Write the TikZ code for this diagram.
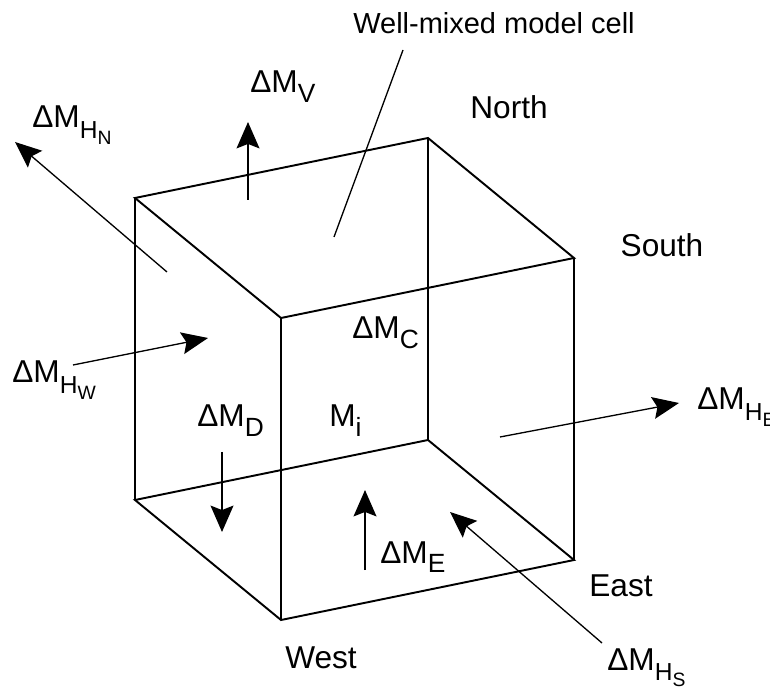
\documentclass[tikz,border=0pt]{standalone}
\usepackage{fontspec}
\setmainfont{Liberation Sans}
\usepackage{tikz}
\usetikzlibrary{arrows.meta,calc,positioning}
\newcommand{\dM}[1]{ΔM\raisebox{-.3em}{\fontsize{15}{15}\selectfont #1}}
\newcommand{\dMH}[1]{ΔM\raisebox{-.34em}{\fontsize{14}{14}\selectfont H\raisebox{-.22em}{\fontsize{11}{11}\selectfont #1}}}
\tikzset{
  arista/.style={
    line width=1.1pt,
    line join=miter
  },
  flecha/.style={
    -{Stealth[length=15pt,width=13pt,inset=2.5pt]},
    line width=1.1pt
  },
  flechafina/.style={
    -{Stealth[length=15pt,width=12.5pt,inset=2.5pt]},
    line width=.75pt
  },
  rotulo/.style={
    inner sep=0pt,
    font=\fontsize{18}{20}\selectfont
  },
  flujo/.style={
    rotulo,
    anchor=base west
  }
}

\begin{document}
\begin{tikzpicture}[x=0.02cm,y=-0.02cm]
\useasboundingbox (0,0) rectangle (770,688);
% esquinas del cubo
\coordinate (a) at (135,198);
\coordinate (b) at (428,138);
\coordinate (c) at (574,258);
\coordinate (d) at (281,318);
\coordinate (a2) at (135,500);
\coordinate (b2) at (428,440);
\coordinate (c2) at (574,560);
\coordinate (d2) at (281,620);
\draw[arista] (a) -- (b) -- (c) -- (d) -- cycle;
\draw[arista] (a2) -- (b2) -- (c2) -- (d2) -- cycle;
\draw[arista] (a) -- (a2);
\draw[arista] (b) -- (b2);
\draw[arista] (c) -- (c2);
\draw[arista] (d) -- (d2);
% rotulos
\node[rotulo] (norte) at (509,107) {North};
\node[rotulo] (sur) at (662,245) {South};
\node[rotulo] (este) at (621,586) {East};
\node[rotulo] (oeste) at (321,658) {West};
\node[rotulo, font=\fontsize{16.5}{18}\selectfont] (celda) at (494,23) {Well-mixed model cell};
\node[flujo] (mv) at (250,93) {\dM{V}};
\node[flujo] (mhn) at (32,128) {\dMH{N}};
\node[flujo] (mhw) at (12,383) {\dMH{W}};
\node[flujo] (md) at (197,427) {\dM{D}};
\node[flujo] (mc) at (352,339) {\dM{C}};
\node[flujo] (mi) at (329,427) {M\raisebox{-.3em}{\fontsize{15}{15}\selectfont i}};
\node[flujo] (me) at (380,563) {\dM{E}};
\node[flujo] (mhs) at (607,670) {\dMH{S}};
\node[flujo] (mhe) at (697,410) {\dMH{E}};
% flechas
\coordinate (v0) at (248,200);  \coordinate (v1) at (248,122);
\coordinate (n0) at (167,272);  \coordinate (n1) at (15,142);
\coordinate (w0) at (73,365);   \coordinate (w1) at (208,338);
\coordinate (d0) at (222,452);  \coordinate (d1) at (222,532);
\coordinate (e0) at (365,570);  \coordinate (e1) at (365,490);
\coordinate (s0) at (602,643);  \coordinate (s1) at (450,512);
\coordinate (h0) at (500,437);  \coordinate (h1) at (679,403);
\coordinate (l0) at (403,50);   \coordinate (l1) at (334,237);
\draw[flecha] (v0) -- (v1);
\draw[flecha] (d0) -- (d1);
\draw[flecha] (e0) -- (e1);
\draw[flechafina] (n0) -- (n1);
\draw[flechafina] (w0) -- (w1);
\draw[flechafina] (s0) -- (s1);
\draw[flechafina] (h0) -- (h1);
\draw[line width=.75pt] (l0) -- (l1);
\end{tikzpicture}
\end{document}
